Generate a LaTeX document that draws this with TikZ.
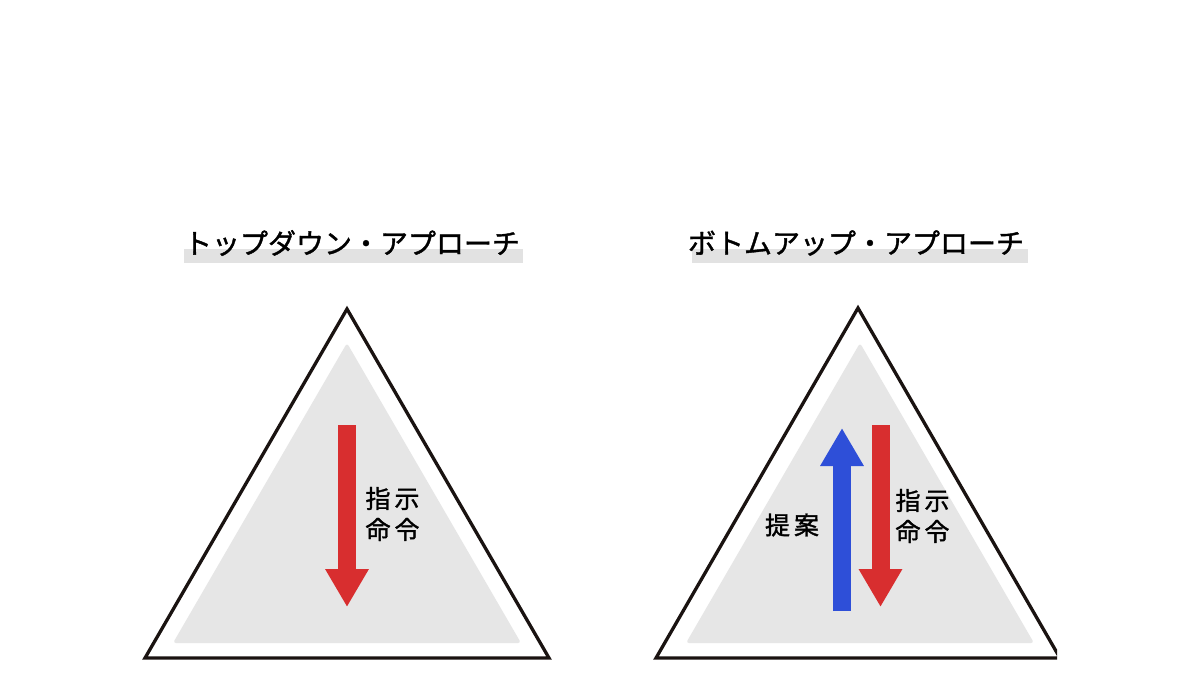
\documentclass[tikz,border=0pt]{standalone}
\usepackage{fontspec}
\newfontfamily\jp[FakeBold=1.3]{Noto Sans CJK JP}
\usetikzlibrary{positioning, arrows.meta}
\definecolor{frameline}{HTML}{1A1311}
\definecolor{innergrey}{HTML}{E6E6E6}
\definecolor{bargrey}{HTML}{E2E2E2}
\definecolor{orderred}{HTML}{D82E2F}
\definecolor{ideablue}{HTML}{2E4FD8}
\tikzset{title/.style={
        inner sep=0pt,
        font=\jp\fontsize{28}{32}\selectfont
}}
\tikzset{word/.style={
        inner sep=0pt,
        align=center,
        font=\jp\fontsize{25}{31}\selectfont
}}
\tikzset{outer/.style={draw=frameline, line width=3.3pt, line join=miter, fill=white}}
\tikzset{inner/.style={fill=innergrey, rounded corners=3pt}}
\tikzset{flowarrow/.style={line width=18pt, -{Triangle[width=41pt,length=38pt]}}}

\begin{document}
\begin{tikzpicture}[x=1pt,y=-1pt]
\useasboundingbox (0,0) rectangle (1200,675);

% top-down side
\fill[bargrey] (184,249) rectangle (523,263);
\node[title] (ttop) at (352,243) {トップダウン・アプローチ};
\draw[outer] (347,309) -- (549,658) -- (145,658) -- cycle;
\fill[inner] (347,343) -- (521,643) -- (173,643) -- cycle;
\coordinate (topA) at (347,425);
\coordinate (topB) at (347,607);
\draw[flowarrow, orderred] (topA) -- (topB);
\node[word] (topcmd) at (392.5,514) {指\kern4pt示\\命\kern4pt令};

% bottom-up side
\fill[bargrey] (692,249) rectangle (1028,263);
\node[title] (tbot) at (856,243) {ボトムアップ・アプローチ};
\begin{scope}
\clip (600,290) rectangle (1057,670);
\draw[outer] (858,308) -- (1060,658) -- (656,658) -- cycle;
\end{scope}
\fill[inner] (860,343) -- (1034,643) -- (686,643) -- cycle;
\coordinate (upA) at (842,611);
\coordinate (upB) at (842,428);
\draw[flowarrow, ideablue] (upA) -- (upB);
\coordinate (downA) at (880.5,425);
\coordinate (downB) at (880.5,607);
\draw[flowarrow, orderred] (downA) -- (downB);
\node[word] (botidea) at (792,525) {提\kern4pt案};
\node[word] (botcmd) at (922.5,516) {指\kern4pt示\\命\kern4pt令};
\end{tikzpicture}
\end{document}
